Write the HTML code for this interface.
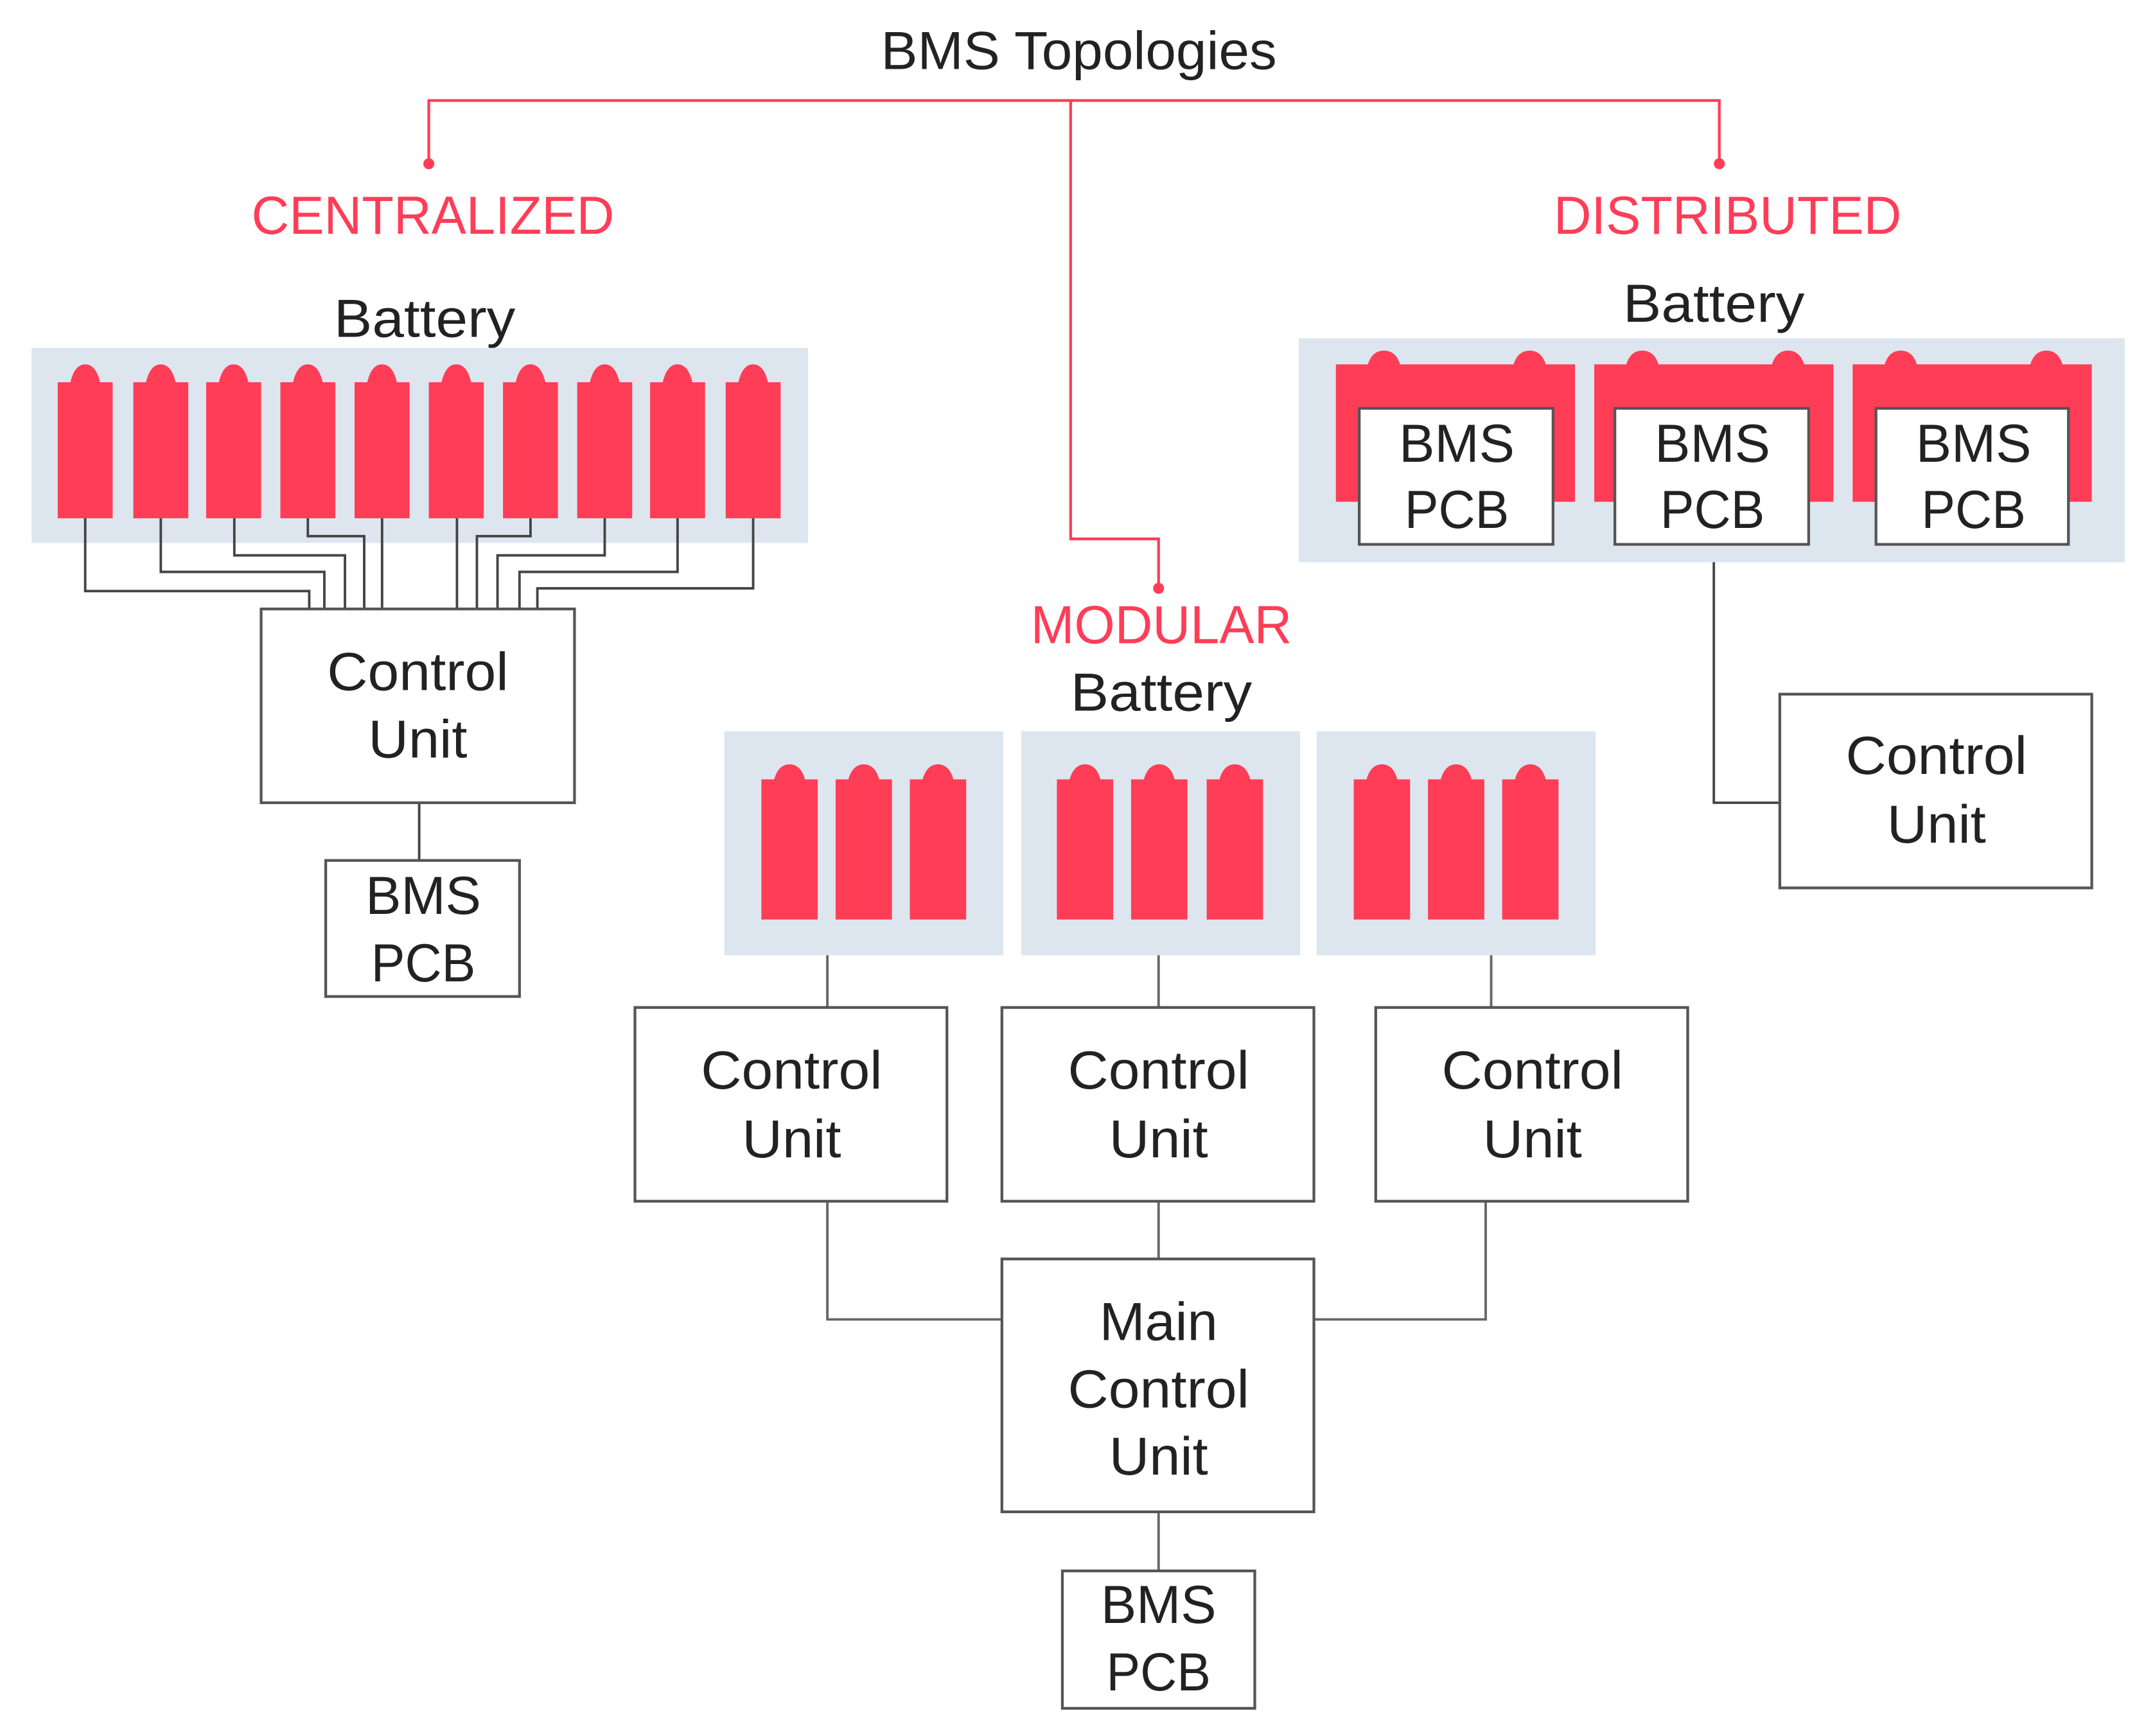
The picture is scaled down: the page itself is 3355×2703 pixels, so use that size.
<!DOCTYPE html>
<html><head><meta charset="utf-8"><style>
html,body{margin:0;padding:0;background:#fff;}
svg{display:block;}
text{font-family:"Liberation Sans Narrow","Liberation Sans",sans-serif;font-size:39px;fill:#222;text-anchor:middle;}
.r{fill:#ff3d57;}
.bx{fill:#fff;stroke:#555;stroke-width:2;}
.w{fill:none;stroke:#444;stroke-width:1.8;}
</style></head><body>
<svg width="3355" height="2703" viewBox="0 0 1568 1263" xmlns="http://www.w3.org/2000/svg">
<defs>
<g id="cell"><rect x="0" y="13" width="40" height="99" class="r"/><path d="M9 14 Q12 0 20 0 Q28 0 31 14 Z" class="r"/></g>
<g id="mcell"><rect x="0" y="11" width="41" height="102" class="r"/><path d="M9 12 Q12 0 20.5 0 Q29 0 32 12 Z" class="r"/></g>
<g id="dblk"><rect x="0" y="10" width="174" height="100" class="r"/><path d="M23 11 Q26 0 35 0 Q44 0 47 11 Z" class="r"/><path d="M129 11 Q132 0 141 0 Q150 0 153 11 Z" class="r"/></g>
</defs>

<text x="785" y="50" textLength="288" lengthAdjust="spacingAndGlyphs">BMS Topologies</text>
<g fill="none" stroke="#ff3d57" stroke-width="2">
<path d="M312 118 V73 H1251 V118"/>
<path d="M779 73 V392 H843 V428"/>
</g>
<circle cx="312" cy="119" r="4" fill="#ff3d57"/>
<circle cx="1251" cy="119" r="4" fill="#ff3d57"/>
<circle cx="843" cy="428" r="4" fill="#ff3d57"/>
<text x="315" y="170" textLength="264" lengthAdjust="spacingAndGlyphs" style="fill:#ff3d57">CENTRALIZED</text>
<text x="1257" y="170" textLength="253" lengthAdjust="spacingAndGlyphs" style="fill:#ff3d57">DISTRIBUTED</text>
<text x="845" y="468" textLength="190" lengthAdjust="spacingAndGlyphs" style="fill:#ff3d57">MODULAR</text>

<!-- Centralized -->
<text x="309" y="245" textLength="132" lengthAdjust="spacingAndGlyphs">Battery</text>
<rect x="23" y="253" width="565" height="142" fill="#dde6ee"/>
<use href="#cell" x="42" y="265"/><use href="#cell" x="97" y="265"/><use href="#cell" x="150" y="265"/><use href="#cell" x="204" y="265"/><use href="#cell" x="258" y="265"/><use href="#cell" x="312" y="265"/><use href="#cell" x="366" y="265"/><use href="#cell" x="420" y="265"/><use href="#cell" x="473" y="265"/><use href="#cell" x="528" y="265"/>
<g class="w">
<path d="M62 377 V430 H225 V443"/>
<path d="M117 377 V416 H236 V443"/>
<path d="M170.5 377 V404 H251 V443"/>
<path d="M224 377 V390 H265 V443"/>
<path d="M278 377 V443"/>
<path d="M332.5 377 V443"/>
<path d="M386 377 V390 H347 V443"/>
<path d="M440 377 V404 H362 V443"/>
<path d="M493 377 V416 H378 V443"/>
<path d="M548 377 V428 H391 V443"/>
<path d="M305 584 V626"/>
</g>
<rect x="190" y="443" width="228" height="141" class="bx"/>
<text x="304" y="502" textLength="132" lengthAdjust="spacingAndGlyphs">Control</text>
<text x="304" y="551" textLength="72" lengthAdjust="spacingAndGlyphs">Unit</text>
<rect x="237" y="626" width="141" height="99" class="bx"/>
<text x="308" y="665" textLength="84" lengthAdjust="spacingAndGlyphs">BMS</text>
<text x="308" y="714" textLength="76" lengthAdjust="spacingAndGlyphs">PCB</text>

<!-- Modular -->
<text x="845" y="517" textLength="132" lengthAdjust="spacingAndGlyphs">Battery</text>
<rect x="527" y="532" width="203" height="163" fill="#dde6ee"/>
<rect x="743" y="532" width="203" height="163" fill="#dde6ee"/>
<rect x="958" y="532" width="203" height="163" fill="#dde6ee"/>
<use href="#mcell" x="554" y="556"/><use href="#mcell" x="608" y="556"/><use href="#mcell" x="662" y="556"/>
<use href="#mcell" x="769" y="556"/><use href="#mcell" x="823" y="556"/><use href="#mcell" x="878" y="556"/>
<use href="#mcell" x="985" y="556"/><use href="#mcell" x="1039" y="556"/><use href="#mcell" x="1093" y="556"/>
<g class="w" style="stroke:#666">
<path d="M602 695 V733"/><path d="M843 695 V733"/><path d="M1085 695 V733"/>
<path d="M602 874 V960 H729"/><path d="M843 874 V916"/><path d="M1081 874 V960 H956"/>
<path d="M843 1100 V1143"/>
</g>
<rect x="462" y="733" width="227" height="141" class="bx"/>
<rect x="729" y="733" width="227" height="141" class="bx"/>
<rect x="1001" y="733" width="227" height="141" class="bx"/>
<text x="576" y="792" textLength="132" lengthAdjust="spacingAndGlyphs">Control</text>
<text x="576" y="842" textLength="72" lengthAdjust="spacingAndGlyphs">Unit</text>
<text x="843" y="792" textLength="132" lengthAdjust="spacingAndGlyphs">Control</text>
<text x="843" y="842" textLength="72" lengthAdjust="spacingAndGlyphs">Unit</text>
<text x="1115" y="792" textLength="132" lengthAdjust="spacingAndGlyphs">Control</text>
<text x="1115" y="842" textLength="72" lengthAdjust="spacingAndGlyphs">Unit</text>
<rect x="729" y="916" width="227" height="184" class="bx"/>
<text x="843" y="975" textLength="86" lengthAdjust="spacingAndGlyphs">Main</text>
<text x="843" y="1024" textLength="132" lengthAdjust="spacingAndGlyphs">Control</text>
<text x="843" y="1073" textLength="72" lengthAdjust="spacingAndGlyphs">Unit</text>
<rect x="773" y="1143" width="140" height="100" class="bx"/>
<text x="843" y="1181" textLength="84" lengthAdjust="spacingAndGlyphs">BMS</text>
<text x="843" y="1230" textLength="76" lengthAdjust="spacingAndGlyphs">PCB</text>

<!-- Distributed -->
<text x="1247" y="234" textLength="132" lengthAdjust="spacingAndGlyphs">Battery</text>
<rect x="945" y="246" width="601" height="163" fill="#dde6ee"/>
<use href="#dblk" x="972" y="255"/><use href="#dblk" x="1160" y="255"/><use href="#dblk" x="1348" y="255"/>
<rect x="989" y="297" width="141" height="99" class="bx"/>
<rect x="1175" y="297" width="141" height="99" class="bx"/>
<rect x="1365" y="297" width="140" height="99" class="bx"/>
<text x="1060" y="336" textLength="84" lengthAdjust="spacingAndGlyphs">BMS</text>
<text x="1060" y="384" textLength="76" lengthAdjust="spacingAndGlyphs">PCB</text>
<text x="1246" y="336" textLength="84" lengthAdjust="spacingAndGlyphs">BMS</text>
<text x="1246" y="384" textLength="76" lengthAdjust="spacingAndGlyphs">PCB</text>
<text x="1436" y="336" textLength="84" lengthAdjust="spacingAndGlyphs">BMS</text>
<text x="1436" y="384" textLength="76" lengthAdjust="spacingAndGlyphs">PCB</text>
<path d="M1247 409 V584 H1295" class="w"/>
<rect x="1295" y="505" width="227" height="141" class="bx"/>
<text x="1409" y="563" textLength="132" lengthAdjust="spacingAndGlyphs">Control</text>
<text x="1409" y="613" textLength="72" lengthAdjust="spacingAndGlyphs">Unit</text>
</svg>
</body></html>
